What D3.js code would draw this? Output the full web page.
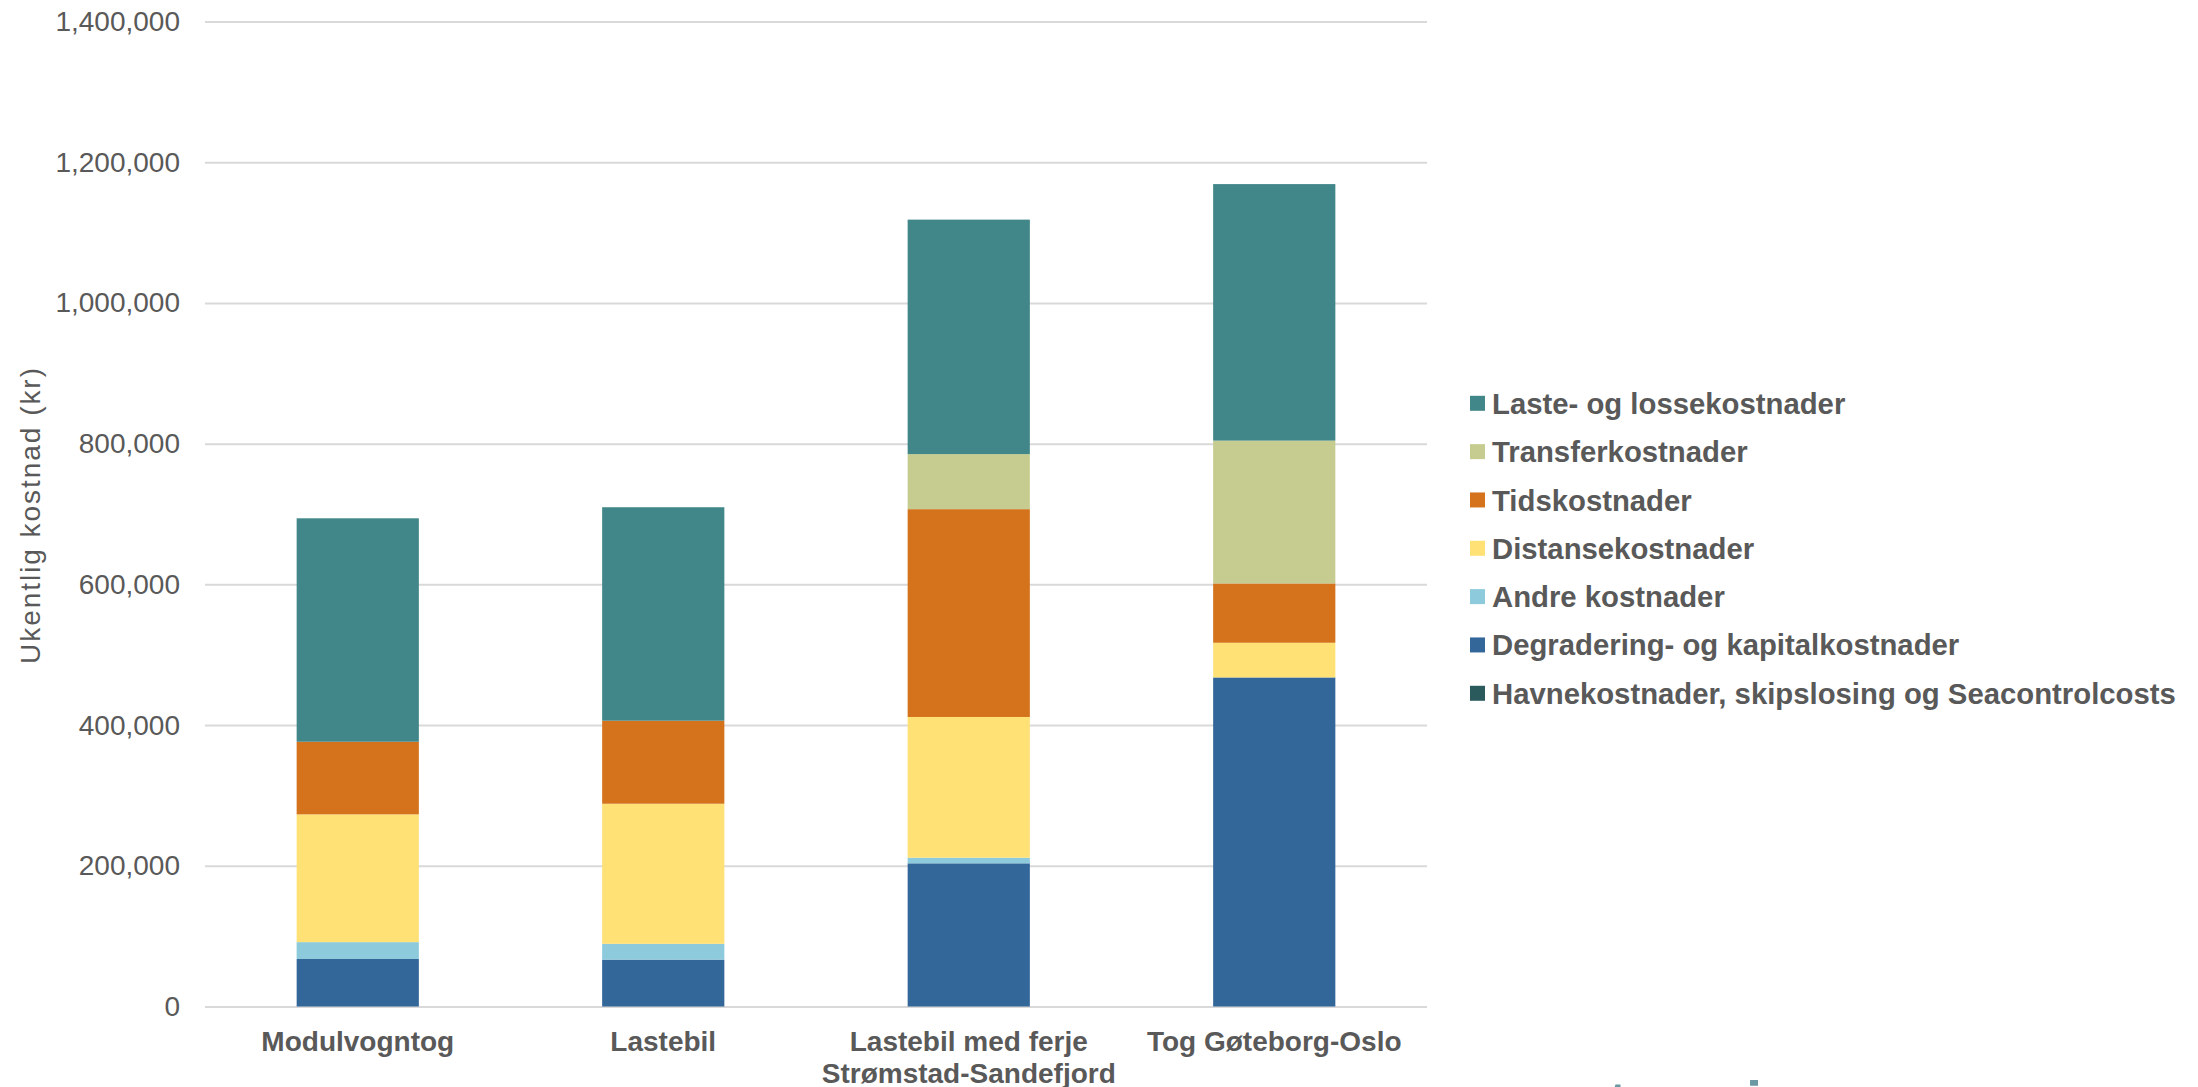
<!DOCTYPE html>
<html>
<head>
<meta charset="utf-8">
<script src="https://cdn.jsdelivr.net/npm/d3@7"></script>
<style>
  html, body { margin: 0; padding: 0; background: #ffffff; }
  svg { display: block; font-family: "Liberation Sans", Arial, sans-serif; }
</style>
</head>
<body>
<svg id="chart" width="2198" height="1087"></svg>
<script>
// ---- data ----
const categories = ["Modulvogntog", "Lastebil", "Lastebil med ferje\nStrømstad-Sandefjord", "Tog Gøteborg-Oslo"];
const seriesNames = [
  "Havnekostnader, skipslosing og Seacontrolcosts",
  "Degradering- og kapitalkostnader",
  "Andre kostnader",
  "Distansekostnader",
  "Tidskostnader",
  "Transferkostnader",
  "Laste- og lossekostnader"
];
const havnekostnader   = [0, 0, 0, 0];
const degradering      = [67500, 66600, 203500, 467700];
const andreKostnader   = [24000, 22500, 8000, 0];
const distanse         = [181600, 199100, 200000, 49300];
const tidskostnader    = [103200, 118000, 295400, 84300];
const transfer         = [0, 0, 78200, 203000];
const lasteLosse       = [317600, 303400, 333300, 364600];
const seriesColors = ["#2B5A5C", "#336699", "#8CCADC", "#FFE175", "#D4731C", "#C6CC90", "#418789"];
const yTicks = [0, 200000, 400000, 600000, 800000, 1000000, 1200000, 1400000];
const yTitle = "Ukentlig kostnad (kr)";

const seriesValues = [havnekostnader, degradering, andreKostnader, distanse, tidskostnader, transfer, lasteLosse];
const table = categories.map((c, i) => {
  const row = { cat: c };
  seriesNames.forEach((s, j) => row[s] = seriesValues[j][i]);
  return row;
});

// ---- layout ----
const svg = d3.select("#chart");
const plotLeft = 205, plotRight = 1427, plotTop = 21.5, plotBottom = 1006.5;
const textColor = "#595959";

const x = d3.scaleBand().domain(categories).range([plotLeft, plotRight]).paddingInner(0.6).paddingOuter(0.3);
const y = d3.scaleLinear().domain([0, 1400000]).range([plotBottom, plotTop]);

// gridlines + y axis labels
const yAxis = d3.axisLeft(y).tickValues(yTicks).tickSize(-(plotRight - plotLeft)).tickPadding(25)
  .tickFormat(d3.format(","));
const gy = svg.append("g").attr("transform", `translate(${plotLeft},0)`).call(yAxis);
gy.select(".domain").remove();
gy.selectAll(".tick line").attr("stroke", "#D9D9D9").attr("stroke-width", 2);
gy.selectAll(".tick text").attr("fill", textColor).attr("font-size", 28)
  .attr("font-family", "'Liberation Sans', Arial, sans-serif");

// stacked bars
const stack = d3.stack().keys(seriesNames);
const stacked = stack(table);
svg.append("g").selectAll("g").data(stacked).join("g")
  .attr("fill", (d, i) => seriesColors[i])
  .selectAll("rect").data(d => d).join("rect")
  .attr("x", d => x(d.data.cat))
  .attr("width", x.bandwidth())
  .attr("y", d => y(d[1]))
  .attr("height", d => Math.max(0, y(d[0]) - y(d[1])));

// x axis labels
const xAxis = d3.axisBottom(x).tickSize(0).tickFormat("");
const gx = svg.append("g").attr("transform", `translate(0,${plotBottom})`).call(xAxis);
gx.select(".domain").remove();
gx.selectAll(".tick").each(function(d) {
  const lines = d.split("\n");
  const t = d3.select(this).append("text")
    .attr("fill", textColor).attr("font-size", 28).attr("font-weight", "bold")
    .attr("text-anchor", "middle")
    .attr("font-family", "'Liberation Sans', Arial, sans-serif");
  lines.forEach((ln, k) => {
    t.append("tspan").attr("x", 0).attr("y", 44 + k * 32).text(ln);
  });
});

// y title
svg.append("text")
  .attr("transform", `translate(40,516) rotate(-90)`)
  .attr("text-anchor", "middle")
  .attr("fill", textColor).attr("font-size", 28)
  .attr("textLength", 296).attr("lengthAdjust", "spacing")
  .text(yTitle);

// legend (reverse order: top series first)
const legendOrder = seriesNames.map((s, i) => i).reverse();
const lg = svg.append("g");
legendOrder.forEach((si, k) => {
  const cy = 403.3 + k * 48.33;
  lg.append("rect").attr("x", 1470).attr("y", cy - 7.5).attr("width", 15).attr("height", 15)
    .attr("fill", seriesColors[si]);
  lg.append("text").attr("x", 1492).attr("y", cy).attr("dy", "0.36em")
    .attr("fill", textColor).attr("font-size", 29.3).attr("font-weight", "bold")
    .text(seriesNames[si]);
});

// partially visible logo at the bottom edge
const logo = svg.append("text").attr("y", 1122).attr("font-size", 58).attr("font-weight", "bold")
  .attr("fill", "#6A99A3");
[["t", 1608], ["ø", 1662], ["i", 1746]].forEach(([ch, px]) => {
  logo.append("tspan").attr("x", px).text(ch);
});
</script>
</body>
</html>
